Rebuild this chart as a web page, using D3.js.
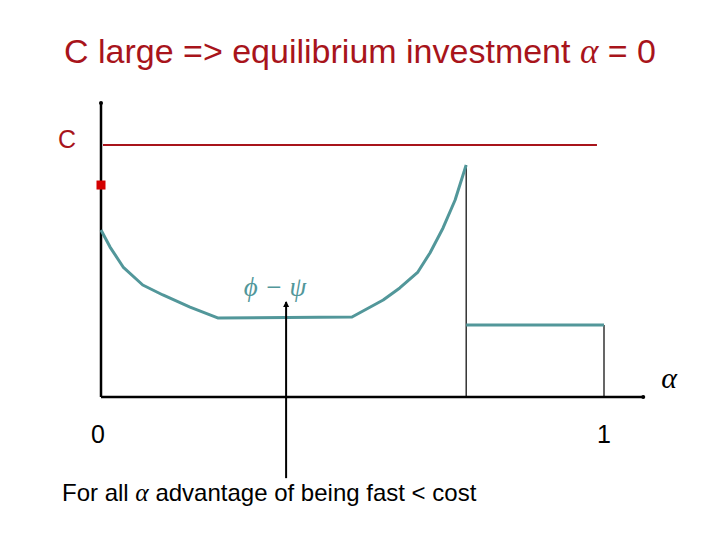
<!DOCTYPE html>
<html>
<head>
<meta charset="utf-8">
<script src="https://d3js.org/d3.v7.min.js"></script>
<style>
  body { margin: 0; background: #fff; }
  svg { display: block; }
</style>
</head>
<body>
<svg id="drawing_region"></svg>
<script>
// curve phi - psi as a function of alpha
const curveAlpha = [0, 0.018, 0.044, 0.083, 0.123, 0.177, 0.232, 0.499, 0.561, 0.594, 0.630, 0.654, 0.680, 0.704, 0.726];
const curveValue = [5.68, 5.10, 4.42, 3.81, 3.47, 3.06, 2.69, 2.72, 3.30, 3.71, 4.25, 4.90, 5.75, 6.70, 7.89];
// flat part after the jump
const flatAlpha = [0.726, 1.0];
const flatValue = [2.45, 2.45];
// cost level and the point on the y axis
const costValue = 8.57;
const costAlpha = [0, 0.986];
const pointValue = 7.21;
// pointer line
const pointerAlpha = 0.368;
const pointerValue = [3.23, -2.76];
const xTickValues = [0, 1];
const xTickLabels = ['0', '1'];

const config = {
    width: 720,
    height: 540,
    x0: 101, x1: 604,
    y0: 397, y1: 103
};

const svg = d3.select('#drawing_region')
    .attr('width', config.width)
    .attr('height', config.height);

const xscale = d3.scaleLinear().domain([0, 1]).range([config.x0, config.x1]);
const yscale = d3.scaleLinear().domain([0, 10]).range([config.y0, config.y1]);

const teal = '#52979a';
const darkRed = '#a8141b';
const sans = 'Liberation Sans, Arial, sans-serif';
const serif = 'Liberation Serif, serif';

// title
const title = svg.append('text')
    .attr('x', 64).attr('y', 63)
    .attr('font-family', sans)
    .attr('font-size', 34)
    .attr('fill', darkRed);
title.append('tspan').text('C large => equilibrium investment ');
title.append('tspan').attr('font-family', serif).attr('font-style', 'italic').attr('font-size', 35).text('α');
title.append('tspan').text(' = 0');

// cost line
svg.append('line')
    .attr('x1', xscale(costAlpha[0]) + 2).attr('x2', xscale(costAlpha[1]))
    .attr('y1', yscale(costValue)).attr('y2', yscale(costValue))
    .attr('stroke', darkRed).attr('stroke-width', 2);

svg.append('text')
    .attr('x', 67).attr('y', 148)
    .attr('text-anchor', 'middle')
    .attr('font-family', sans)
    .attr('font-size', 25)
    .attr('fill', darkRed)
    .text('C');

// axes
const line = d3.line().x(d => xscale(d[0])).y(d => yscale(d[1]));

svg.append('path')
    .attr('d', line([[0, 0], [0, 10]]))
    .attr('stroke', 'black').attr('stroke-width', 2.5).attr('fill', 'none');
svg.append('path')
    .attr('d', line([[0, 0], [1.078, 0]]))
    .attr('stroke', 'black').attr('stroke-width', 2.5).attr('fill', 'none');
svg.append('circle').attr('cx', xscale(1.078)).attr('cy', yscale(0)).attr('r', 2).attr('fill', 'black');
svg.append('circle').attr('cx', xscale(0)).attr('cy', yscale(10)).attr('r', 2).attr('fill', 'black');

// red square on y axis
svg.append('rect')
    .attr('x', xscale(0) - 4.5).attr('y', yscale(pointValue) - 4.5)
    .attr('width', 9).attr('height', 9)
    .attr('fill', '#d40000');

// thin vertical lines
svg.append('path')
    .attr('d', line([[flatAlpha[0], 0], [flatAlpha[0], curveValue[curveValue.length - 1]]]))
    .attr('stroke', 'black').attr('stroke-width', 1.2).attr('fill', 'none');
svg.append('path')
    .attr('d', line([[flatAlpha[1], 0], [flatAlpha[1], flatValue[1]]]))
    .attr('stroke', 'black').attr('stroke-width', 1.2).attr('fill', 'none');

// curve
svg.append('path')
    .attr('d', line(curveAlpha.map((a, i) => [a, curveValue[i]])))
    .attr('stroke', teal).attr('stroke-width', 3).attr('fill', 'none')
    .attr('stroke-linejoin', 'round');
svg.append('path')
    .attr('d', line(flatAlpha.map((a, i) => [a, flatValue[i]])))
    .attr('stroke', teal).attr('stroke-width', 3).attr('fill', 'none');

// pointer
svg.append('path')
    .attr('d', line(pointerValue.map(v => [pointerAlpha, v])))
    .attr('stroke', 'black').attr('stroke-width', 2).attr('fill', 'none');
svg.append('path')
    .attr('d', `M${xscale(pointerAlpha) - 3},${yscale(pointerValue[0]) + 5} L${xscale(pointerAlpha)},${yscale(pointerValue[0]) - 1} L${xscale(pointerAlpha) + 3},${yscale(pointerValue[0]) + 5} Z`)
    .attr('fill', 'black');

// phi - psi label
svg.append('text')
    .attr('x', 275).attr('y', 296)
    .attr('text-anchor', 'middle')
    .attr('font-family', serif)
    .attr('font-style', 'italic')
    .attr('font-size', 27)
    .attr('fill', teal)
    .text('ϕ − ψ');

// tick labels
svg.selectAll('.xtick')
    .data(xTickValues)
    .enter()
    .append('text')
    .attr('class', 'xtick')
    .attr('x', (d, i) => xscale(d) + (i === 0 ? -3 : 0))
    .attr('y', 443)
    .attr('text-anchor', 'middle')
    .attr('font-family', sans)
    .attr('font-size', 25)
    .attr('fill', 'black')
    .text((d, i) => xTickLabels[i]);

// alpha axis label
svg.append('text')
    .attr('x', 669).attr('y', 388)
    .attr('text-anchor', 'middle')
    .attr('font-family', serif)
    .attr('font-style', 'italic')
    .attr('font-size', 30)
    .attr('fill', 'black')
    .text('α');

// bottom note
const note = svg.append('text')
    .attr('x', 62).attr('y', 501)
    .attr('font-family', sans)
    .attr('font-size', 24)
    .attr('fill', 'black');
note.append('tspan').text('For all ');
note.append('tspan').attr('font-family', serif).attr('font-style', 'italic').attr('font-size', 25.5).text('α');
note.append('tspan').text(' advantage of being fast < cost');
</script>
</body>
</html>
